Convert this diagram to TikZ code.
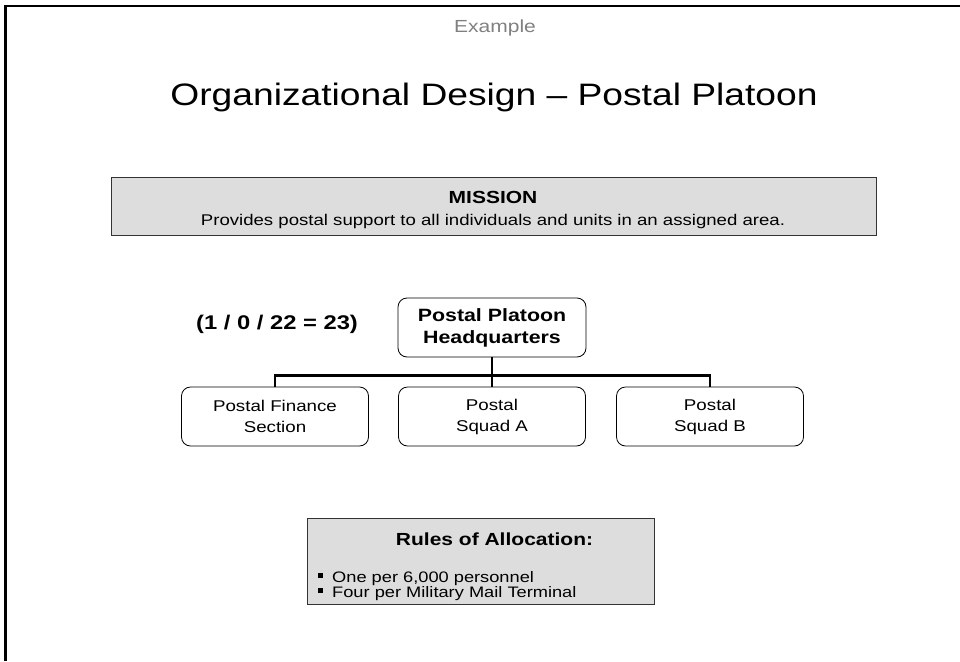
\documentclass[tikz,border=0pt]{standalone}
\usepackage{fontspec}
\setmainfont{Liberation Sans}[FakeStretch=1.2]
\definecolor{panel}{HTML}{DDDDDD}
\definecolor{edge}{HTML}{333333}
\definecolor{caption}{HTML}{808080}
\tikzset{
  unitbox/.style={draw=black, line width=0.8pt, rounded corners=9pt, fill=white,
    minimum width=187pt, minimum height=59pt, align=center, inner sep=0pt,
    font=\fontsize{15.6}{21}\selectfont},
  greybox/.style={draw=edge, line width=1pt, fill=panel, inner sep=0pt},
  link/.style={line width=2.6pt, black},
  lbl/.style={anchor=base, inner sep=0pt},
  bul/.style={font=\fontsize{15.2}{15}\selectfont, anchor=base west, inner sep=0pt}
}
\newcommand{\sqbul}{\rule[4pt]{5pt}{5pt}\hspace{9pt}}
\begin{document}
\begin{tikzpicture}[x=1pt,y=-1pt]
\useasboundingbox (0,0) rectangle (960,661);
% slide frame
\draw[line width=2.6pt] (5.5,661) -- (5.5,6) -- (960,6);
% header
\node[lbl, text=caption, font=\fontsize{17.5}{20}\selectfont] (ex) at (495,33) {Example};
\node[lbl, font=\fontsize{31}{36}\selectfont] (title) at (494,105) {Organizational Design -- Postal Platoon};
% mission panel
\node[greybox, minimum width=765pt, minimum height=58pt] (mission) at (493.5,206) {};
\node[lbl, font=\bfseries\fontsize{17.5}{20}\selectfont] (mtitle) at (493,203) {MISSION};
\node[lbl, font=\fontsize{15.5}{18}\selectfont] (mtext) at (493,225) {Provides postal support to all individuals and units in an assigned area.};
% organization chart
\node[lbl, font=\bfseries\fontsize{19.8}{22}\selectfont] (strength) at (277,329) {(1 / 0 / 22 = 23)};
\node[unitbox, minimum width=188pt, minimum height=59pt, font=\bfseries\fontsize{17.8}{22}\selectfont] (hq) at (492,327.5) {Postal Platoon\\Headquarters};
\node[unitbox] (c1) at (275,416.5) {Postal Finance\\Section};
\node[unitbox] (c2) at (492,416.5) {Postal\\Squad A};
\node[unitbox] (c3) at (710,416.5) {Postal\\Squad B};
\coordinate (bar) at (492,375.5);
\draw[link] (hq.south) -- (c2.north);
\draw[link] (c1.north) |- (bar) -| (c3.north);
% allocation rules panel
\node[greybox, minimum width=347pt, minimum height=86pt] (rules) at (480.5,561) {};
\node[lbl, font=\bfseries\fontsize{17.5}{20}\selectfont] (rtitle) at (494.5,545) {Rules of Allocation:};
\node[bul] (r1) at (318,582) {\sqbul One per 6,000 personnel};
\node[bul] (r2) at (318,597) {\sqbul Four per Military Mail Terminal};
\end{tikzpicture}
\end{document}
